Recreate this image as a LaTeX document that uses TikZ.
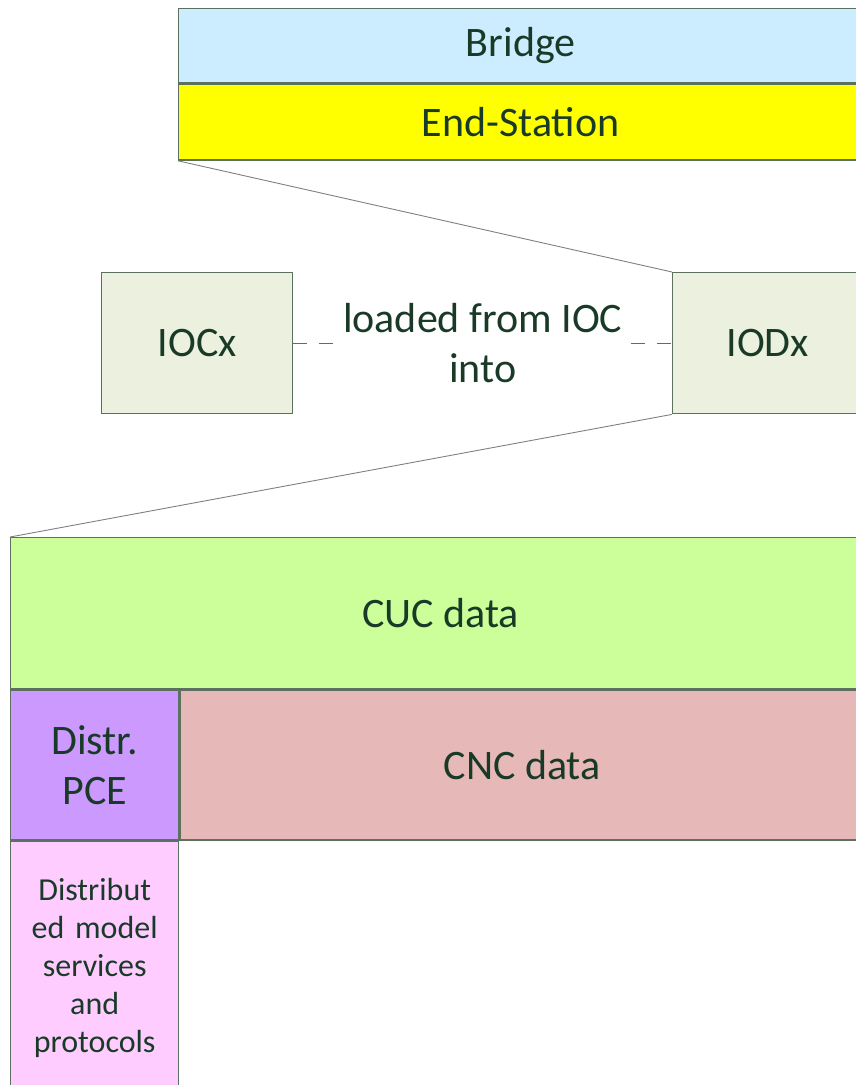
\documentclass[tikz,border=0pt]{standalone}
\usepackage{fontspec}
\setmainfont{Carlito}
\usetikzlibrary{positioning}

% colours
\definecolor{txtgreen}{HTML}{1A3A28}
\definecolor{edgegreen}{HTML}{5C7060}
\definecolor{bridgeblue}{HTML}{CCECFF}
\definecolor{stationyellow}{HTML}{FFFF00}
\definecolor{iobox}{HTML}{EBF1DE}
\definecolor{cucgreen}{HTML}{CCFF99}
\definecolor{pcepurple}{HTML}{CC99FF}
\definecolor{cncrose}{HTML}{E6B9B8}
\definecolor{modelpink}{HTML}{FFCCFF}

\begin{document}
\begin{tikzpicture}[x=1pt,y=-1pt,
	box/.style={draw=edgegreen, line width=1.4pt, anchor=north west,
		inner sep=0pt, align=center, text=txtgreen,
		font=\fontsize{42}{50}\selectfont},
	smallbox/.style={box, font=\fontsize{32}{38}\selectfont},
	zoomline/.style={draw=gray, line width=0.9pt}]

	% page frame
	\useasboundingbox (0,0) rectangle (856,1085);

	% top: layers
	\node[box, fill=bridgeblue, minimum width=684pt, minimum height=74pt]
		(bridge) at (178,8) {Bridge};
	\node[box, fill=stationyellow, minimum width=684pt, minimum height=76pt]
		(station) at (bridge.south west) {End-Station};

	% middle: IOC and IOD
	\node[box, fill=iobox, minimum width=191pt, minimum height=141pt]
		(iocx) at (101,272) {IOCx};
	\node[box, fill=iobox, minimum width=190pt, minimum height=141pt]
		(iodx) at (672,272) {IODx};

	% dashed link
	\draw[dashed, dash pattern=on 14pt off 12pt, draw=edgegreen, line width=1.4pt]
		(iocx) -- node[fill=white, inner sep=2pt, align=center, text=txtgreen,
		font=\fontsize{42}{50}\selectfont] (load) {loaded from IOC\\into} (iodx);

	% bottom: data blocks
	\node[box, fill=cucgreen, minimum width=860pt, minimum height=151pt]
		(cuc) at (10,537) {CUC data};
	\node[box, fill=pcepurple, minimum width=168pt, minimum height=150pt,
		text width=168pt] (pce) at (cuc.south west) {Distr.\\PCE};
	\node[box, fill=cncrose, minimum width=684pt, minimum height=150pt]
		(cnc) at (pce.north east) {CNC data};
	\node[smallbox, fill=modelpink, minimum width=168pt, minimum height=252pt,
		text width=168pt] (model) at (pce.south west)
		{Distribut\\ed model\\services\\and\\protocols};

	% zoom lines
	\draw[zoomline] (station.south west) -- (iodx.north west);
	\draw[zoomline] (iodx.south west) -- (cuc.north west);

\end{tikzpicture}
\end{document}
